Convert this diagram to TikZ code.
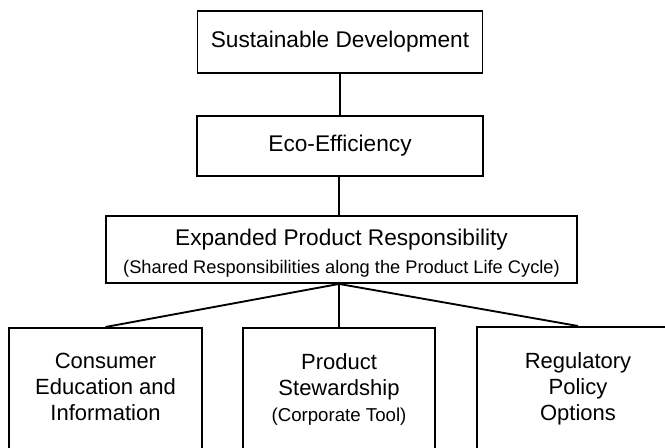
\documentclass[tikz,border=0pt]{standalone}
\usepackage{fontspec}
\setmainfont{Liberation Sans}
\begin{document}
\begin{tikzpicture}[x=0.75pt,y=-0.75pt,
    box/.style={draw,line width=1.4pt,inner sep=0pt},
    link/.style={line width=1.4pt},
    head/.style={font=\fontsize{17}{20}\selectfont},
    leaf/.style={anchor=north,inner sep=0pt,align=center,font=\fontsize{16.5}{19.5}\selectfont}]
  \useasboundingbox (0,0) rectangle (665,447);
  \clip (0,0) rectangle (665,447);

  \node[box,head,minimum width=213.75pt,minimum height=46.5pt] (sd) at (340,42) {Sustainable Development};
  \node[box,head,minimum width=214.5pt,minimum height=45pt] (eco) at (340,146) {Eco-Efficiency};
  \node[box,minimum width=353.25pt,minimum height=50.25pt] (epr) at (341.5,249.5) {};
  \node[head,align=center,inner sep=0pt] (eprtext) at ([yshift=-3pt]epr.center)
    {Expanded Product Responsibility\\[1pt]{\fontsize{13.7}{16}\selectfont (Shared Responsibilities along the Product Life Cycle)}};

  \node[box,anchor=north,minimum width=144.75pt,minimum height=107.25pt] (cei) at (105.5,327) {};
  \node[box,anchor=north,minimum width=144pt,minimum height=107.25pt] (ps) at (339,327) {};
  \node[box,anchor=north,minimum width=151.5pt,minimum height=107.25pt] (rpo) at (578,326) {};

  \node[leaf] (ceitext) at ([yshift=-19.5pt]cei.north) {Consumer\\Education and\\Information};
  \node[leaf] (pstext) at ([yshift=-19.5pt]ps.north) {Product\\Stewardship\\{\fontsize{14}{16}\selectfont (Corporate Tool)}};
  \node[leaf] (rpotext) at ([yshift=-19.5pt]rpo.north) {Regulatory\\Policy\\Options};

  \coordinate (fork) at (ps.north |- epr.south);
  \draw[link] (sd.south) -- (sd.south |- eco.north);
  \draw[link] (fork |- eco.south) -- (fork |- epr.north);
  \draw[link] (fork) -- (cei.north);
  \draw[link] (fork) -- (ps.north);
  \draw[link] (fork) -- (rpo.north);
\end{tikzpicture}
\end{document}
